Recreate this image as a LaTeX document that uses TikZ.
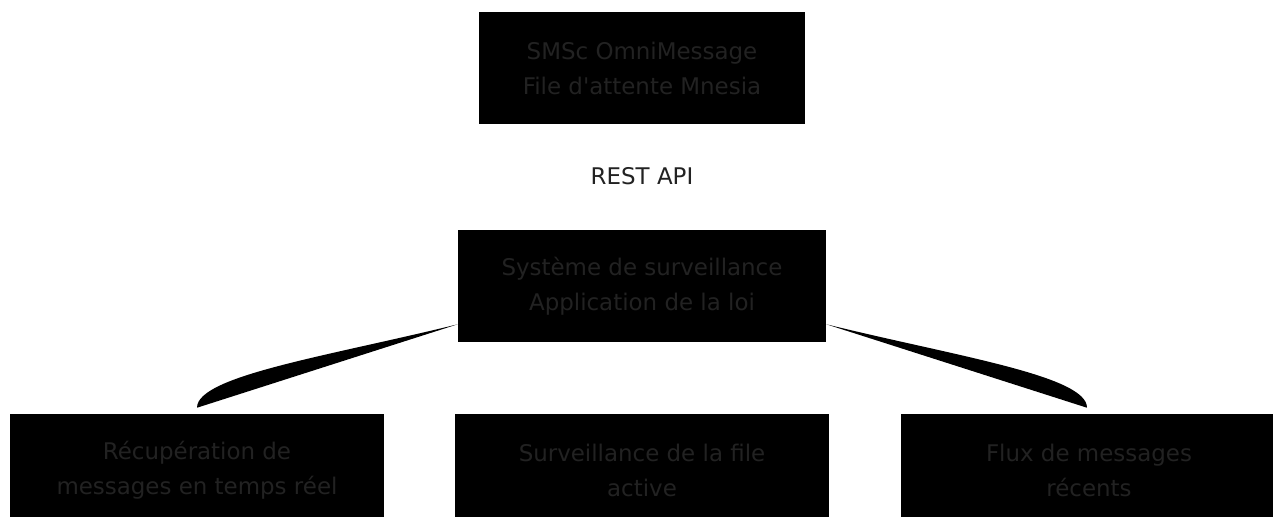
\documentclass[tikz,border=0pt]{standalone}
\usepackage{fontspec}
\setmainfont{DejaVu Sans}
\usetikzlibrary{calc}
\definecolor{textc}{RGB}{34,34,34}
\tikzset{
  box/.style={fill=black, draw=none, inner sep=0pt, align=center, text=textc,
    font=\fontsize{17.2}{26.25}\selectfont},
  lbl/.style={inner sep=0pt, text=textc, font=\fontsize{17.2}{26.25}\selectfont},
  link/.style={fill=black, draw=none}
}
\begin{document}
\begin{tikzpicture}[x=0.75pt, y=-0.75pt]
\clip (0,0) rectangle (1273,517);
\fill[white] (0,0) rectangle (1273,517);
\node[box, minimum width=326*0.75pt, minimum height=112*0.75pt] (top) at (642,68) {SMSc OmniMessage\\File d\textquotesingle attente Mnesia};
\node[lbl] (api) at (642,176) {REST API};
\node[box, minimum width=368*0.75pt, minimum height=112*0.75pt] (mid) at (642,286) {Système de surveillance\\Application de la loi};
\node[box, minimum width=374*0.75pt, minimum height=112*0.75pt] (bl) at (197,470) {Récupération de\\messages en temps réel};
\node[box, minimum width=374*0.75pt, minimum height=112*0.75pt] (bm) at (642,470) {Surveillance de la file\\active};
\node[box, minimum width=376*0.75pt, minimum height=112*0.75pt] (br) at (1089,470) {Flux de messages\\récents};
\coordinate (lt) at ($(mid.south west)+(0,-18)$);
\coordinate (le) at ($(bl.north)+(0,-6)$);
\coordinate (rt) at ($(mid.south east)+(0,-18)$);
\coordinate (re) at ($(br.north)+(-2,-6)$);
\fill[link] (lt) .. controls ($(lt)+(-130,32)$) and ($(le)+(0,-32)$) .. (le) -- cycle;
\fill[link] (rt) .. controls ($(rt)+(130,32)$) and ($(re)+(0,-32)$) .. (re) -- cycle;
\end{tikzpicture}
\end{document}
